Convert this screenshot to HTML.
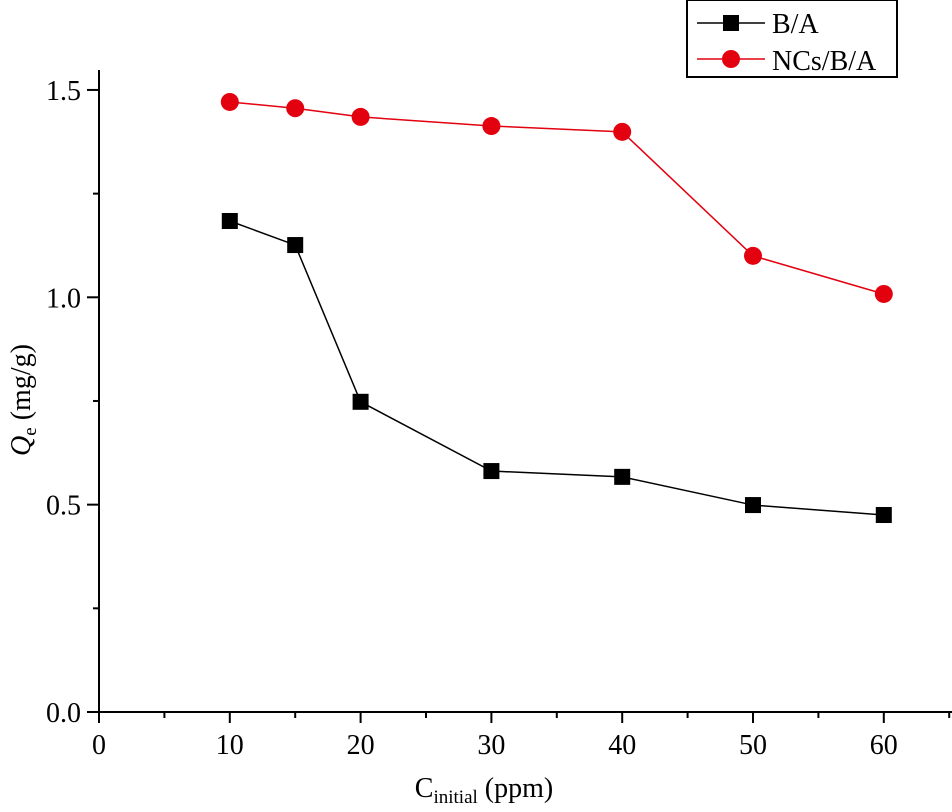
<!DOCTYPE html>
<html><head><meta charset="utf-8"><style>
html,body{margin:0;padding:0;background:#fff;}
svg{display:block;font-family:"Liberation Serif",serif;}
</style></head><body>
<svg id="chart" width="952" height="812" viewBox="0 0 952 812" xmlns="http://www.w3.org/2000/svg">
<g id="axes"></g>
<g id="series"></g>
<g>
<rect x="687" y="0" width="210" height="77" fill="#fff" stroke="#000" stroke-width="2"/>
<g>
<line x1="697" y1="23" x2="765" y2="23" stroke="#000" stroke-width="1.5"/>
<rect x="723" y="15" width="16" height="16" fill="#000"/>
<text x="772" y="33" font-size="28">B/A</text>
</g>
<g>
<line x1="697" y1="59" x2="765" y2="59" stroke="#e3000f" stroke-width="1.5"/>
<circle cx="731" cy="59" r="9" fill="#e3000f"/>
<text x="772" y="70" font-size="28">NCs/B/A</text>
</g>
</g>
<text transform="translate(30,400) rotate(-90)" text-anchor="middle" font-size="28"><tspan font-style="italic">Q</tspan><tspan font-size="19" dy="6">e</tspan><tspan dy="-6"> (mg/g)</tspan></text>
<text x="484" y="797" text-anchor="middle" font-size="28">C<tspan font-size="19" dy="6">initial</tspan><tspan dy="-6"> (ppm)</tspan></text>
</svg>
<script>
const xCats = [10, 15, 20, 30, 40, 50, 60];
const seriesBA = [1.184, 1.126, 0.748, 0.581, 0.567, 0.499, 0.475];
const seriesNCs = [1.471, 1.456, 1.435, 1.413, 1.399, 1.100, 1.008];
const xTicks = [0, 10, 20, 30, 40, 50, 60];
const yTicks = [0.0, 0.5, 1.0, 1.5];

const NS = "http://www.w3.org/2000/svg";
const X0 = 99, XS = 13.08, Y0 = 712, YS = 414.7;
function sx(v){ return X0 + v * XS; }
function sy(v){ return Y0 - v * YS; }
function mk(tag, attrs, parent){
  const el = document.createElementNS(NS, tag);
  for (const k in attrs) el.setAttribute(k, attrs[k]);
  parent.appendChild(el);
  return el;
}
const axes = document.getElementById('axes');
const series = document.getElementById('series');

let xl = mk('line', {x1: X0, y1: Y0, x2: 952, y2: Y0, stroke: '#000', 'stroke-width': 2}, axes);


let yl = mk('line', {x1: X0, y1: 70, x2: X0, y2: Y0 + 10, stroke: '#000', 'stroke-width': 2}, axes);



for (let v = 0; v <= 65; v += 5) {
  const major = v % 10 === 0;
  const t = mk('line', {x1: sx(v), y1: Y0, x2: sx(v), y2: Y0 + (major ? 11 : 6), stroke: '#000', 'stroke-width': 2}, axes);
  
  
}
xTicks.forEach(v => {
  const t = mk('text', {x: sx(v), y: Y0 + 42, 'text-anchor': 'middle', 'font-size': 28}, axes);
  t.textContent = String(v);
  
  
});
for (let i = 0; i <= 6; i++) {
  const v = i * 0.25;
  const major = i % 2 === 0;
  const t = mk('line', {x1: X0 - (major ? 12 : 6), y1: sy(v), x2: X0, y2: sy(v), stroke: '#000', 'stroke-width': 2}, axes);
  
  
}
yTicks.forEach(v => {
  const t = mk('text', {x: X0 - 18, y: sy(v) + 10, 'text-anchor': 'end', 'font-size': 28}, axes);
  t.textContent = v.toFixed(1);
  
  
});

function drawSeries(vals, color, shape, name){
  const g = mk('g', {}, series);
  
  
  const pts = vals.map((v, i) => sx(xCats[i]) + ',' + sy(v)).join(' ');
  const pl = mk('polyline', {points: pts, fill: 'none', stroke: color, 'stroke-width': 1.5}, g);
  
  
  vals.forEach((v, i) => {
    let m;
    if (shape === 'square') m = mk('rect', {x: sx(xCats[i]) - 8, y: sy(v) - 8, width: 16, height: 16, fill: color}, g);
    else m = mk('circle', {cx: sx(xCats[i]), cy: sy(v), r: 9, fill: color}, g);
    
    
  });
}
drawSeries(seriesBA, '#000', 'square', 'series-ba');
drawSeries(seriesNCs, '#e3000f', 'circle', 'series-ncs');
</script>
</body></html>
